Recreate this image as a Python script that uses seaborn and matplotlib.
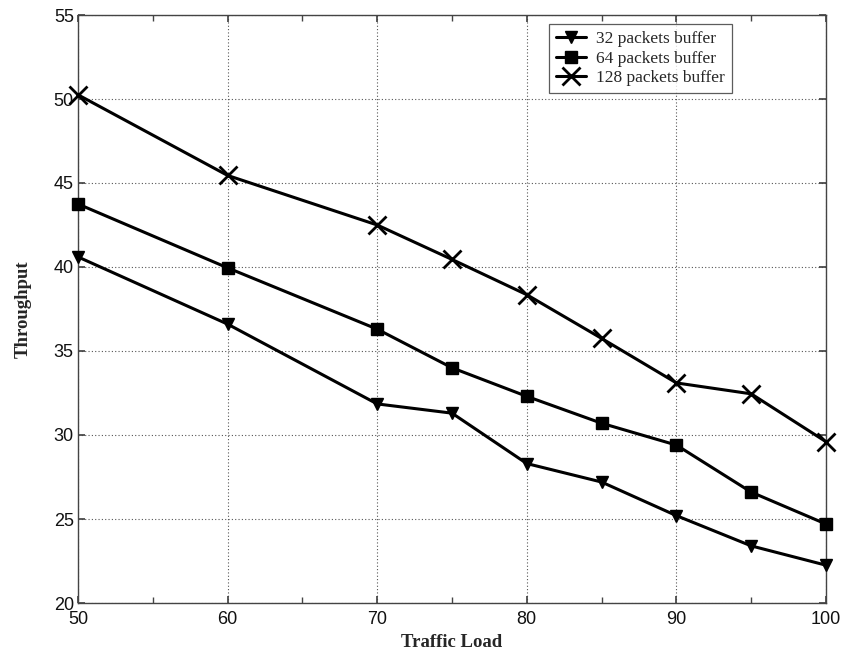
import matplotlib
matplotlib.use("Agg")
import matplotlib.pyplot as plt
from matplotlib.ticker import MultipleLocator
import seaborn as sns
import pandas as pd

# Throughput vs. traffic load for three buffer sizes
traffic_load = [50, 60, 70, 75, 80, 85, 90, 95, 100]
buf_32 = [40.6, 36.6, 31.85, 31.3, 28.3, 27.2, 25.2, 23.4, 22.25]
buf_64 = [43.75, 39.95, 36.3, 34.0, 32.3, 30.7, 29.4, 26.6, 24.7]
buf_128 = [50.25, 45.45, 42.5, 40.45, 38.35, 35.75, 33.1, 32.45, 29.6]
series_labels = ["32 packets buffer", "64 packets buffer", "128 packets buffer"]

sns.set_theme(style="white")
plt.rcParams["font.family"] = ["Liberation Sans", "DejaVu Sans"]

fig = plt.figure(figsize=(8.42, 6.53), dpi=100)
ax = fig.add_axes([78 / 842, 1 - 603 / 653, 748 / 842, 588 / 653])

styles = [
    dict(marker="v", markersize=9, markeredgewidth=1),
    dict(marker="s", markersize=8, markeredgewidth=1),
    dict(marker="x", markersize=13, markeredgewidth=2),
]
for values, label, st in zip([buf_32, buf_64, buf_128], series_labels, styles):
    df = pd.DataFrame({"load": traffic_load, "throughput": values})
    sns.lineplot(data=df, x="load", y="throughput", ax=ax, color="black",
                 linewidth=2.2, label=label, markerfacecolor="black",
                 markeredgecolor="black", clip_on=False, zorder=5, **st)

ax.set_xlim(50, 100)
ax.set_ylim(20, 55)
ax.xaxis.set_major_locator(MultipleLocator(10))
ax.xaxis.set_minor_locator(MultipleLocator(5))
ax.yaxis.set_major_locator(MultipleLocator(5))

ax.grid(True, which="major", linestyle=(0, (1, 2)), color="#555555", linewidth=0.8)
ax.tick_params(which="both", direction="in", top=True, right=True,
               bottom=True, left=True, color="#444444", labelsize=13,
               labelcolor="#111111")
ax.tick_params(which="major", length=5)
ax.tick_params(which="minor", length=4)
ax.tick_params(axis="x", pad=6)
ax.tick_params(axis="y", pad=3)
for sp in ax.spines.values():
    sp.set_color("#444444")
    sp.set_linewidth(1.0)

label_font = dict(family=["Liberation Serif", "DejaVu Serif"], weight="bold", size=13.5)
ax.set_xlabel("Traffic Load", labelpad=4, **label_font)
ax.set_ylabel("Throughput", labelpad=16, **label_font)

leg = ax.legend(loc="upper left", bbox_to_anchor=((549 - 78) / 748, (603 - 24) / 588),
                borderaxespad=0, frameon=True, fancybox=False, shadow=False,
                handlelength=1.75, handletextpad=0.55, borderpad=0.4,
                labelspacing=0.2,
                prop=dict(family=["Liberation Serif", "DejaVu Serif"], size=12.5))
leg.get_frame().set_edgecolor("#333333")
leg.get_frame().set_linewidth(0.9)
leg.set_zorder(10)

fig.savefig("out.png", dpi=100, facecolor="white")
